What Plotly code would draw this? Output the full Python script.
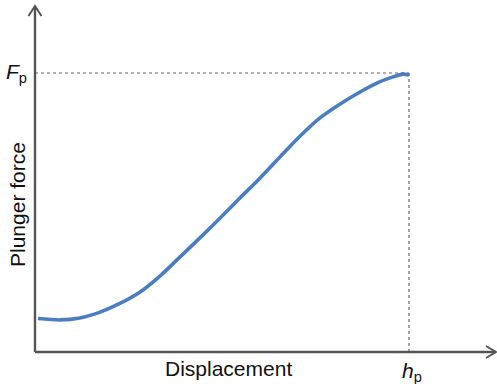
import plotly.graph_objects as go

# Normalised data: displacement (h/hp) and plunger force (F/Fp)
displacement = [0.008, 0.067, 0.120, 0.174, 0.227, 0.281, 0.334, 0.388, 0.441, 0.495,
                0.548, 0.602, 0.655, 0.709, 0.762, 0.816, 0.869, 0.914, 0.957, 0.984, 1.0]
force = [0.120, 0.115, 0.122, 0.143, 0.174, 0.215, 0.272, 0.341, 0.409, 0.480,
         0.552, 0.624, 0.699, 0.774, 0.839, 0.889, 0.932, 0.964, 0.986, 0.996, 0.993]
hp = 1.0
Fp = 1.0

W, H = 497, 384
X0PX, X1PX = 35, 409     # pixel of x=0 and x=hp
Y0PX, Y1PX = 352, 73     # pixel of y=0 and y=Fp
sx = (X1PX - X0PX) / hp
sy = (Y0PX - Y1PX) / Fp
xr = [-X0PX / sx, (W - X0PX) / sx]
yr = [-(H - Y0PX) / sy, Y0PX / sy]

def dx(px):  # pixel offset -> data units x
    return px / sx

def dy(px):
    return px / sy

axis_col = "#555555"
fig = go.Figure()
fig.add_trace(go.Scatter(x=displacement, y=force, mode="lines",
                         line=dict(color="#4a7ebf", width=3.6, shape="spline", smoothing=0.8),
                         hoverinfo="skip", showlegend=False))

shapes = []
# dotted guides
shapes.append(dict(type="line", x0=0, y0=Fp, x1=hp, y1=Fp,
                   line=dict(color="#666666", width=1.2, dash="dot")))
shapes.append(dict(type="line", x0=hp, y0=0, x1=hp, y1=Fp,
                   line=dict(color="#666666", width=1.2, dash="dot")))
# axes
ytop = yr[1] - dy(6)
xend = xr[1] - dx(1)
shapes.append(dict(type="line", x0=0, y0=0, x1=0, y1=ytop, line=dict(color=axis_col, width=2.4)))
shapes.append(dict(type="line", x0=0, y0=0, x1=xend, y1=0, line=dict(color=axis_col, width=2.4)))
# chevron arrowheads
shapes.append(dict(type="path",
                   path=f"M {-dx(6.5)},{ytop - dy(10)} L 0,{ytop} L {dx(6.5)},{ytop - dy(10)}",
                   line=dict(color=axis_col, width=2)))
shapes.append(dict(type="path",
                   path=f"M {xend - dx(10)},{dy(6)} L {xend},0 L {xend - dx(10)},{-dy(6)}",
                   line=dict(color=axis_col, width=2)))

font = dict(family="Liberation Sans, Arial, sans-serif", size=21, color="#111111")
annotations = [
    dict(x=-dx(19), y=Fp, xref="x", yref="y", text="<i>F</i><sub>p</sub>", showarrow=False,
         font=font, xanchor="center", yanchor="middle"),
    dict(x=hp + dx(3), y=-dy(20), xref="x", yref="y", text="<i>h</i><sub>p</sub>", showarrow=False,
         font=font, xanchor="center", yanchor="middle"),
    dict(x=dx(228 - X0PX), y=-dy(16), xref="x", yref="y", text="Displacement", showarrow=False,
         font=font, xanchor="center", yanchor="middle"),
    dict(x=-dx(18), y=dy(Y0PX - 205), xref="x", yref="y", text="Plunger force", showarrow=False,
         font=font, textangle=-90, xanchor="center", yanchor="middle"),
]

fig.update_layout(
    width=W, height=H, margin=dict(l=0, r=0, t=0, b=0),
    paper_bgcolor="white", plot_bgcolor="white",
    xaxis=dict(range=xr, visible=False, fixedrange=True),
    yaxis=dict(range=yr, visible=False, fixedrange=True),
    shapes=shapes, annotations=annotations, showlegend=False,
)
fig.write_html("out.html", config={"displayModeBar": False})
